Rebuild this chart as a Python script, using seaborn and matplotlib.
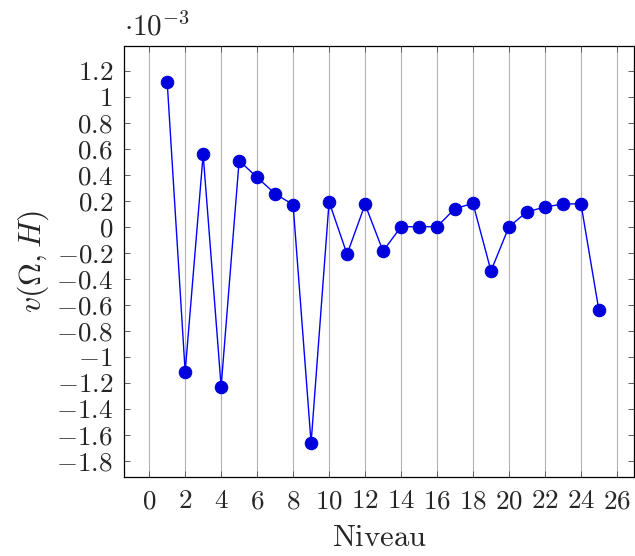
import numpy as np
import pandas as pd
import matplotlib
matplotlib.use("Agg")
import matplotlib.pyplot as plt
import seaborn as sns
from matplotlib.ticker import FixedLocator, FuncFormatter

# Données (valeurs en unités de 10^-3)
niveaux = list(range(1, 26))
v_omega_h = [1.115, -1.117, 0.556, -1.23, 0.509, 0.379, 0.254, 0.169, -1.664,
             0.192, -0.212, 0.172, -0.188, 0.0, 0.0, 0.0, 0.14, 0.179, -0.34,
             0.0, 0.114, 0.152, 0.174, 0.177, -0.644]
x_ticks = list(range(0, 27, 2))
y_ticks = [round(-1.8 + 0.2 * i, 1) for i in range(16)]

sns.set_theme(style="white")
plt.rcParams['mathtext.fontset'] = 'cm'
plt.rcParams['font.family'] = ['cmr10', 'DejaVu Serif']
plt.rcParams['axes.unicode_minus'] = False

df = pd.DataFrame({"Niveau": niveaux, "v": v_omega_h})

fig = plt.figure(figsize=(6.35, 5.56), dpi=100)
ax = fig.add_axes([124 / 635, 79 / 556, 510 / 635, 431 / 556])

sns.lineplot(data=df, x="Niveau", y="v", ax=ax, color="#0000ff", linewidth=1.0,
             marker="o", markersize=9, markerfacecolor="#0000dd",
             markeredgecolor="#0000dd", zorder=3)

ax.set_xlim(-1.4, 26.95)
ax.set_ylim(-1.925, 1.39)

ax.xaxis.set_major_locator(FixedLocator(x_ticks))
ax.yaxis.set_major_locator(FixedLocator(y_ticks))
fmt = FuncFormatter(lambda v, p: "$%g$" % (0 if abs(v) < 1e-9 else v))
ax.xaxis.set_major_formatter(fmt)
ax.yaxis.set_major_formatter(fmt)

ax.grid(axis="x", color="#b4b4b4", linewidth=0.8, zorder=0)
ax.grid(axis="y", visible=False)
ax.tick_params(axis="both", which="major", direction="in", length=4, width=0.7,
               color="#606060", labelsize=19.5, top=True, right=True,
               left=True, bottom=True)
ax.tick_params(axis="y", pad=8)
ax.tick_params(axis="x", pad=9)
for s in ax.spines.values():
    s.set_color("black")
    s.set_linewidth(0.9)

ax.set_xlabel(r"$\mathrm{Niveau}$", fontsize=22, labelpad=8)
ax.set_ylabel(r"$v(\Omega, H)$", fontsize=23, labelpad=4)

fig.text(124 / 635, 1 - 36 / 556, r"$\cdot 10^{-3}$", fontsize=21, ha="left", va="baseline")

fig.savefig("out.png", dpi=100)
